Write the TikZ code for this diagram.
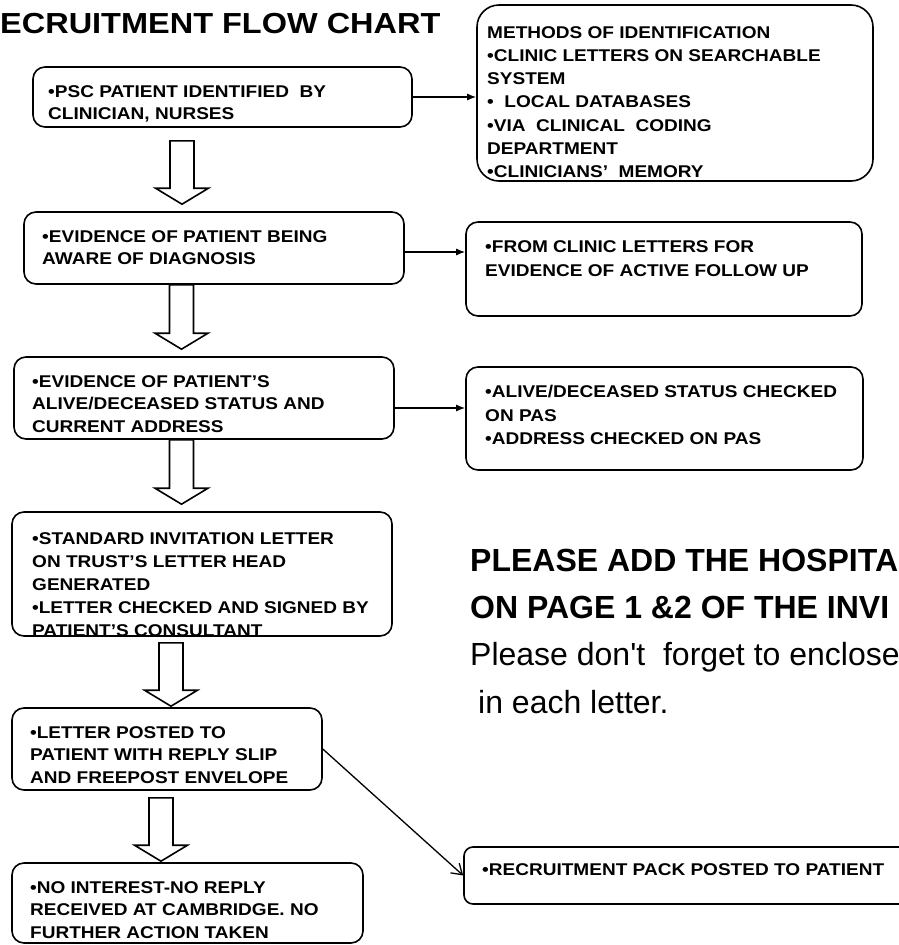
\documentclass[tikz,border=0pt]{standalone}
\usepackage{fontspec}
\setmainfont{Liberation Sans}[FakeStretch=1.12]
\newfontfamily\notefont{Liberation Sans}
\usetikzlibrary{arrows.meta,calc}

\begin{document}
\begin{tikzpicture}[x=1pt,y=-1pt,
    stepbox/.style={draw,line width=1.6pt,rounded corners=12pt,inner sep=0pt},
    boxtext/.style={anchor=north west,inner sep=0pt,align=left,
      font=\fontsize{17}{22.5}\selectfont\bfseries},
    notetext/.style={anchor=base west,inner sep=0pt,font=\notefont\fontsize{32}{40}\selectfont},
    link/.style={line width=1.3pt,-{Latex[length=9pt,width=7pt]}},
    blockarrow/.style={line width=1.6pt,line join=miter,
      to path={let \p1=(\tikztostart),\p2=(\tikztotarget) in
        (\x1-12pt,\y1) -- (\x1-12pt,\y2+16pt) -- (\x1-26.5pt,\y2+16pt) -- (\x1,\y2)
        -- (\x1+26.5pt,\y2+16pt) -- (\x1+12pt,\y2+16pt) -- (\x1+12pt,\y1) -- cycle}}]
  \useasboundingbox (0,0) rectangle (899,945);

  % title
  \node[anchor=base west,inner sep=0pt,font=\fontsize{29}{34}\selectfont\bfseries]
    (title) at (0,33) {ECRUITMENT FLOW CHART};

  % main column
  \node[stepbox,minimum width=379pt,minimum height=60pt] (psc) at (222.5,97) {};
  \node[boxtext] (psc-t) at (48,85) {•PSC PATIENT IDENTIFIED\ \ BY\\CLINICIAN, NURSES};
  \node[stepbox,minimum width=380pt,minimum height=72pt] (evd) at (214,248) {};
  \node[boxtext] (evd-t) at (42,230) {•EVIDENCE OF PATIENT BEING\\AWARE OF DIAGNOSIS};
  \node[stepbox,minimum width=380pt,minimum height=82pt] (alive) at (204,398) {};
  \node[boxtext] (alive-t) at (32,375) {•EVIDENCE OF PATIENT’S\\ALIVE/DECEASED STATUS AND\\CURRENT ADDRESS};
  \node[stepbox,minimum width=380pt,minimum height=124pt] (letter) at (202,574) {};
  \begin{scope}
    \clip (letter.south west) rectangle (letter.north east);
    \node[boxtext,font=\fontsize{17}{23}\selectfont\bfseries] (letter-t) at (32,532)
      {•STANDARD INVITATION LETTER\\ON TRUST’S LETTER HEAD\\GENERATED\\•LETTER CHECKED AND SIGNED BY\\PATIENT’S CONSULTANT};
  \end{scope}
  \node[stepbox,minimum width=310pt,minimum height=82pt] (posted) at (167,749) {};
  \node[boxtext] (posted-t) at (30,726) {•LETTER POSTED TO\\PATIENT WITH REPLY SLIP\\AND FREEPOST ENVELOPE};
  \node[stepbox,minimum width=351pt,minimum height=80pt] (nointr) at (187.5,903) {};
  \node[boxtext] (nointr-t) at (30,881) {•NO INTEREST-NO REPLY\\RECEIVED AT CAMBRIDGE. NO\\FURTHER ACTION TAKEN};

  % side boxes
  \node[stepbox,rounded corners=22pt,minimum width=396pt,minimum height=176pt] (meth) at (675,93) {};
  \node[boxtext,font=\fontsize{17}{23.3}\selectfont\bfseries] (meth-t) at (487,26)
    {METHODS OF IDENTIFICATION\\•CLINIC LETTERS ON SEARCHABLE\\SYSTEM\\•\ \ LOCAL DATABASES\\•VIA\ \ CLINICAL\ \ CODING\\DEPARTMENT\\•CLINICIANS’\ \ MEMORY};
  \node[stepbox,minimum width=396pt,minimum height=94pt] (clin) at (664,269) {};
  \node[boxtext,font=\fontsize{17}{24}\selectfont\bfseries] (clin-t) at (485,240)
    {•FROM CLINIC LETTERS FOR\\EVIDENCE OF ACTIVE FOLLOW UP};
  \node[stepbox,minimum width=397pt,minimum height=103pt] (pas) at (664.5,418.5) {};
  \node[boxtext,font=\fontsize{17}{23.5}\selectfont\bfseries] (pas-t) at (485,385)
    {•ALIVE/DECEASED STATUS CHECKED\\ON PAS\\•ADDRESS CHECKED ON PAS};
  \node[stepbox,rounded corners=9pt,minimum width=466pt,minimum height=57pt] (pack) at (697,875.5) {};
  \node[boxtext] (pack-t) at (482,863) {•RECRUITMENT PACK POSTED TO PATIENT};

  % note
  \node[notetext,font=\notefont\fontsize{32}{40}\selectfont\bfseries] (note1) at (470,571) {PLEASE ADD THE HOSPITA};
  \node[notetext,font=\notefont\fontsize{32}{40}\selectfont\bfseries] (note2) at (470,618) {ON PAGE 1 \&2 OF THE INVI};
  \node[notetext] (note3) at (470,665) {Please don\textquotesingle t\ \ forget to enclose};
  \node[notetext] (note4) at (478,713) {in each letter.};

  % block arrows
  \draw[blockarrow] ([xshift=-40.5pt,yshift=-13pt]psc.south) to ([yshift=7pt]evd.north);
  \draw[blockarrow] ([xshift=-32.5pt]evd.south) to ([yshift=7pt]alive.north);
  \draw[blockarrow] ([xshift=-22.5pt]alive.south) to ([yshift=7pt]letter.north);
  \draw[blockarrow] ([xshift=-31pt,yshift=-6pt]letter.south) to ([yshift=1pt]posted.north);
  \draw[blockarrow] ([xshift=-6pt,yshift=-7pt]posted.south) to ([yshift=1pt]nointr.north);

  % links
  \coordinate (e2) at ([yshift=-4pt]evd.east);
  \coordinate (e3) at ([yshift=-10pt]alive.east);
  \draw[link] (psc.east) -- (psc.east -| meth.west);
  \draw[link] (e2) -- (e2 -| clin.west);
  \draw[link] (e3) -- (e3 -| pas.west);
  \draw[line width=1.3pt,-{Straight Barb[length=10pt,width=13pt]}] (posted.east) -- (pack.west);
\end{tikzpicture}
\end{document}
